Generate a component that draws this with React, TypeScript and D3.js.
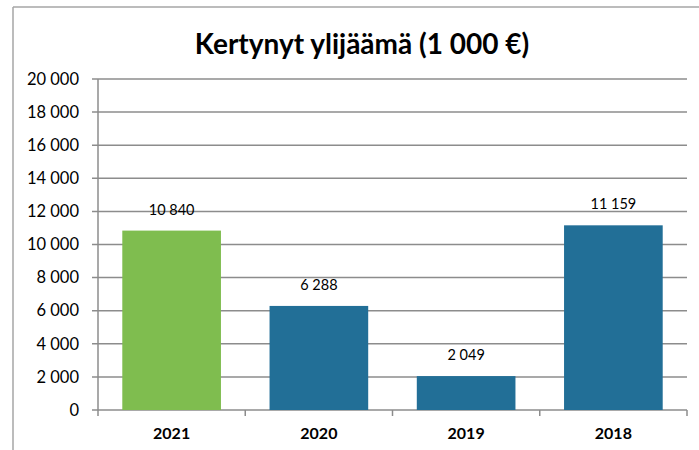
import React from 'react';
import * as d3 from 'd3';

const title = 'Kertynyt ylijäämä (1 000 €)';
const years = ['2021', '2020', '2019', '2018'];
const surplus = [10840, 6288, 2049, 11159];
const yTicks = [0, 2000, 4000, 6000, 8000, 10000, 12000, 14000, 16000, 18000, 20000];

const W = 699;
const H = 450;
const margin = { top: 79, right: 12, bottom: 40, left: 98 };
const font = 'Lato, "Open Sans", sans-serif';

const fmt = (v: number) => d3.format(',')(v).replace(/,/g, ' ');

export default function App() {
  const x = d3.scaleBand().domain(years).range([margin.left, W - margin.right]).paddingInner(0.33).paddingOuter(0.165);
  const y = d3.scaleLinear().domain([0, 20000]).range([H - margin.bottom, margin.top]);
  const bounds = d3.scaleLinear().domain([0, years.length]).range([margin.left, W - margin.right]);
  const y0 = y(0);

  return (
    <svg width={W} height={H} style={{ position: 'absolute', left: 0, top: 0, background: '#fff' }}>
      {/* frame */}
      <line x1={13} x2={W} y1={7} y2={7} stroke="#a6a6a6" strokeWidth={1.5} />
      <line x1={13} x2={13} y1={7} y2={H} stroke="#a6a6a6" strokeWidth={1.5} />

      <text x={362} y={54} textAnchor="middle" fontFamily={font} fontWeight={700} fontSize={28} fill="#000">
        {title}
      </text>

      {/* grid + y axis */}
      {yTicks.map((t) => (
        <g key={t}>
          <line x1={margin.left - 6} x2={W - margin.right} y1={y(t)} y2={y(t)} stroke="#8c8c8c" strokeWidth={1.5} />
          <text x={79} y={y(t)} dy="0.35em" textAnchor="end" fontFamily={font} fontSize={16.5} fill="#000">
            {fmt(t)}
          </text>
        </g>
      ))}
      <line x1={margin.left} x2={margin.left} y1={y(20000)} y2={y0} stroke="#8c8c8c" strokeWidth={1.5} />
      {d3.range(years.length + 1).map((i) => (
        <line key={i} x1={bounds(i)} x2={bounds(i)} y1={y0} y2={y0 + 6} stroke="#8c8c8c" strokeWidth={1.5} />
      ))}

      {/* bars */}
      {years.map((yr, i) => (
        <g key={yr}>
          <rect
            x={x(yr)}
            y={y(surplus[i])}
            width={x.bandwidth()}
            height={y0 - y(surplus[i])}
            fill={i === 0 ? '#7fbd4f' : '#226f97'}
          />
          <text
            x={(x(yr) ?? 0) + x.bandwidth() / 2}
            y={y(surplus[i]) - 16}
            textAnchor="middle"
            fontFamily={font}
            fontSize={14.5}
            fill="#000"
          >
            {fmt(surplus[i])}
          </text>
          <text
            x={(x(yr) ?? 0) + x.bandwidth() / 2}
            y={y0 + 23}
            dy="0.35em"
            textAnchor="middle"
            fontFamily={font}
            fontWeight={700}
            fontSize={16}
            fill="#000"
          >
            {yr}
          </text>
        </g>
      ))}
    </svg>
  );
}
